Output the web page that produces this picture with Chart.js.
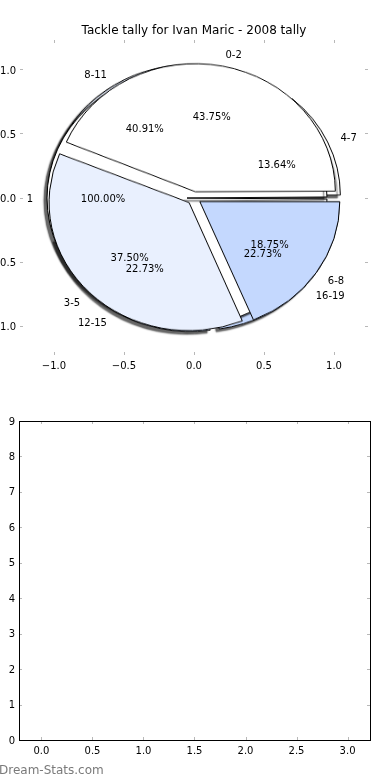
<!DOCTYPE html>
<html><head><meta charset="utf-8">
<script src="https://cdn.jsdelivr.net/npm/chart.js@4/dist/chart.umd.min.js"></script>
<style>
html,body{margin:0;padding:0;background:#fff;width:390px;height:780px;overflow:hidden;position:relative;font-family:"DejaVu Sans",sans-serif}
#top{position:absolute;left:0;top:0;z-index:10}
#bottom{position:absolute;left:0;top:390px}
.pie{position:absolute}
#wm{position:absolute;left:-1px;top:763px;font:12px "DejaVu Sans";color:#7a7a7a;white-space:nowrap}
</style></head><body>
<canvas id="top" width="390" height="390"></canvas>
<div id="pies"></div>
<canvas id="bottom" width="390" height="390"></canvas>
<div id="wm">Dream-Stats.com</div>
<script>
// ---- data ----
const chartTitle = 'Tackle tally for Ivan Maric - 2008 tally';
const pieALabels = ['0-2', '3-5', '6-8'];
const pieAValues = [7, 6, 3];
const pieBLabels = ['4-7', '8-11', '12-15', '16-19'];
const pieBValues = [3, 9, 5, 5];
const pieCLabels = ['1'];
const pieCValues = [1];
const pieTicks = [-1.0, -0.5, 0.0, 0.5, 1.0];
const barXTicks = [0.0, 0.5, 1.0, 1.5, 2.0, 2.5, 3.0];
const barYTicks = [0, 1, 2, 3, 4, 5, 6, 7, 8, 9];

// ---- style ----
const WHITE = '#ffffff', LIGHT = '#e9f0fe', BLUE = '#c4d8fe';
const pieAColors = [WHITE, LIGHT, BLUE];
const pieBColors = [WHITE, LIGHT, BLUE, BLUE];
const pieCColors = [WHITE];
const EXPLODE = 0.05;
const FONT = '"DejaVu Sans", sans-serif';
const TICKCOL = '#b8b8b8';
const TEXT_DY = 2;

const fmt1 = v => v.toFixed(1).replace('-', '\u2212');

function tickMarks(chart, len) {
  const {ctx, chartArea: a, scales: {x, y}} = chart;
  ctx.save();
  ctx.strokeStyle = TICKCOL; ctx.lineWidth = 1;
  ctx.beginPath();
  x.ticks.forEach(t => {
    const p = Math.round(x.getPixelForValue(t.value)) + 0.5;
    ctx.moveTo(p, a.top); ctx.lineTo(p, a.top + len);
    ctx.moveTo(p, a.bottom); ctx.lineTo(p, a.bottom - len);
  });
  y.ticks.forEach(t => {
    const p = Math.round(y.getPixelForValue(t.value)) + 0.5;
    ctx.moveTo(a.left, p); ctx.lineTo(a.left + len, p);
    ctx.moveTo(a.right, p); ctx.lineTo(a.right - len, p);
  });
  ctx.stroke();
  ctx.restore();
}

function pieTexts(chart, labels, values) {
  const {ctx, scales: {x, y}} = chart;
  const total = values.reduce((s, v) => s + v, 0);
  let t1 = 0;
  ctx.save();
  ctx.fillStyle = '#000';
  ctx.font = '10px ' + FONT;
  ctx.textBaseline = 'middle';
  values.forEach((v, i) => {
    const frac = v / total;
    const t2 = t1 + frac * 360;
    const tm = (t1 + t2) / 2 * Math.PI / 180;
    const cx = EXPLODE * Math.cos(tm), cy = EXPLODE * Math.sin(tm);
    const lx = cx + 1.1 * Math.cos(tm), ly = cy + 1.1 * Math.sin(tm);
    ctx.textAlign = lx > 0 ? 'left' : 'right';
    ctx.fillText(labels[i], x.getPixelForValue(lx), y.getPixelForValue(ly) + TEXT_DY);
    const px = cx + 0.6 * Math.cos(tm), py = cy + 0.6 * Math.sin(tm);
    ctx.textAlign = 'center';
    ctx.fillText((frac * 100).toFixed(2) + '%', x.getPixelForValue(px), y.getPixelForValue(py) + TEXT_DY);
    t1 = t2;
  });
  ctx.restore();
}

const topDecor = {
  id: 'topDecor',
  afterDraw(chart) {
    tickMarks(chart, 3);
    const {ctx, chartArea: a} = chart;
    ctx.save();
    ctx.fillStyle = '#000';
    ctx.font = '12px ' + FONT;
    ctx.textAlign = 'center'; ctx.textBaseline = 'middle';
    ctx.fillText(chartTitle, (a.left + a.right) / 2, 31);
    ctx.restore();
    pieTexts(chart, pieBLabels, pieBValues);
    pieTexts(chart, pieCLabels, pieCValues);
    pieTexts(chart, pieALabels, pieAValues);
  }
};

const tickFont = {family: FONT, size: 10};

const topChart = new Chart(document.getElementById('top'), {
  type: 'scatter',
  data: {datasets: []},
  options: {
    responsive: false, animation: false, events: [],
    layout: {padding: {top: 40, right: 22, left: 0, bottom: 0}},
    plugins: {legend: {display: false}, tooltip: {enabled: false}},
    scales: {
      x: {
        type: 'linear', min: -1.243, max: 1.243,
        grid: {display: false, drawTicks: false}, border: {display: false},
        afterBuildTicks: s => { s.ticks = pieTicks.map(v => ({value: v})); },
        afterFit: s => { s.height = 35; },
        ticks: {padding: 5, color: '#000', font: tickFont, maxRotation: 0, callback: v => fmt1(v)}
      },
      y: {
        type: 'linear', min: -1.23, max: 1.23,
        grid: {display: false, drawTicks: false}, border: {display: false},
        afterBuildTicks: s => { s.ticks = pieTicks.map(v => ({value: v})); },
        afterFit: s => { s.width = 20; },
        ticks: {padding: 4, labelOffset: 2, color: '#000', font: tickFont, callback: v => fmt1(v)}
      }
    }
  },
  plugins: [topDecor]
});

// ---- pies, placed through the axis scales ----
const radiusFix = {
  id: 'radiusFix',
  afterDatasetsUpdate(chart) {
    chart.getDatasetMeta(0).data.forEach(el => {
      const off = (el.options.offset || 0) / 4;
      const fix = 1 - Math.sin(Math.min(Math.PI, el.circumference));
      el.outerRadius = Math.max(el.outerRadius - off * fix, 0);
    });
  }
};
const shadow = {
  id: 'shadow',
  beforeDatasetsDraw(chart) {
    const c = chart.ctx; c.save();
    c.shadowColor = 'rgba(0,0,0,0.6)'; c.shadowOffsetX = -3; c.shadowOffsetY = 3; c.shadowBlur = 1.5;
  },
  afterDatasetsDraw(chart) { chart.ctx.restore(); }
};

const xs = topChart.scales.x, ys = topChart.scales.y;
const cx0 = xs.getPixelForValue(0), cy0 = ys.getPixelForValue(0);
const Rx = xs.getPixelForValue(1) - cx0, Ry = cy0 - ys.getPixelForValue(1);
const half = Math.ceil(Rx * (1 + EXPLODE) + 16);

function makePie(labels, values, colors, z, withShadow) {
  const cv = document.createElement('canvas');
  cv.className = 'pie';
  cv.width = cv.height = half * 2;
  cv.style.left = (cx0 - half) + 'px';
  cv.style.top = (cy0 - half) + 'px';
  cv.style.zIndex = z;
  cv.style.transformOrigin = half + 'px ' + half + 'px';
  cv.style.transform = 'scaleY(' + (Ry / Rx) + ')';
  document.getElementById('pies').appendChild(cv);
  const rev = a => a.slice().reverse();
  return new Chart(cv, {
    type: 'pie',
    data: {labels: rev(labels), datasets: [{
      data: rev(values), backgroundColor: rev(colors),
      borderColor: '#000', borderWidth: 1,
      offset: 4 * EXPLODE * Rx, hoverOffset: 0
    }]},
    options: {
      responsive: false, animation: false, events: [],
      rotation: 90, radius: Rx,
      layout: {padding: 0},
      plugins: {legend: {display: false}, tooltip: {enabled: false}}
    },
    plugins: withShadow ? [radiusFix, shadow] : [radiusFix]
  });
}
makePie(pieBLabels, pieBValues, pieBColors, 1, true);
makePie(pieCLabels, pieCValues, pieCColors, 2, true);
makePie(pieALabels, pieAValues, pieAColors, 3, false);

// ---- empty lower axes ----
const bottomDecor = {
  id: 'bottomDecor',
  afterDraw(chart) {
    tickMarks(chart, 3);
    const {ctx, chartArea: a} = chart;
    ctx.save();
    ctx.strokeStyle = '#000'; ctx.lineWidth = 1;
    ctx.strokeRect(Math.round(a.left) + 0.5, Math.round(a.top) + 0.5,
                   Math.round(a.right - a.left), Math.round(a.bottom - a.top));
    ctx.restore();
  }
};
new Chart(document.getElementById('bottom'), {
  type: 'scatter',
  data: {datasets: [{data: []}]},
  options: {
    responsive: false, animation: false, events: [],
    layout: {padding: {top: 31, right: 20, left: 0, bottom: 0}},
    plugins: {legend: {display: false}, tooltip: {enabled: false}},
    scales: {
      x: {
        type: 'linear', min: -0.22, max: 3.22,
        grid: {display: false, drawTicks: false}, border: {display: false},
        afterBuildTicks: s => { s.ticks = barXTicks.map(v => ({value: v})); },
        afterFit: s => { s.height = 40; },
        ticks: {padding: 5, color: '#000', font: tickFont, maxRotation: 0, callback: v => fmt1(v)}
      },
      y: {
        type: 'linear', min: 0, max: 9,
        grid: {display: false, drawTicks: false}, border: {display: false},
        afterBuildTicks: s => { s.ticks = barYTicks.map(v => ({value: v})); },
        afterFit: s => { s.width = 19; },
        ticks: {padding: 4, labelOffset: 1, color: '#000', font: tickFont, callback: v => String(v)}
      }
    }
  },
  plugins: [bottomDecor]
});
</script>
</body></html>
